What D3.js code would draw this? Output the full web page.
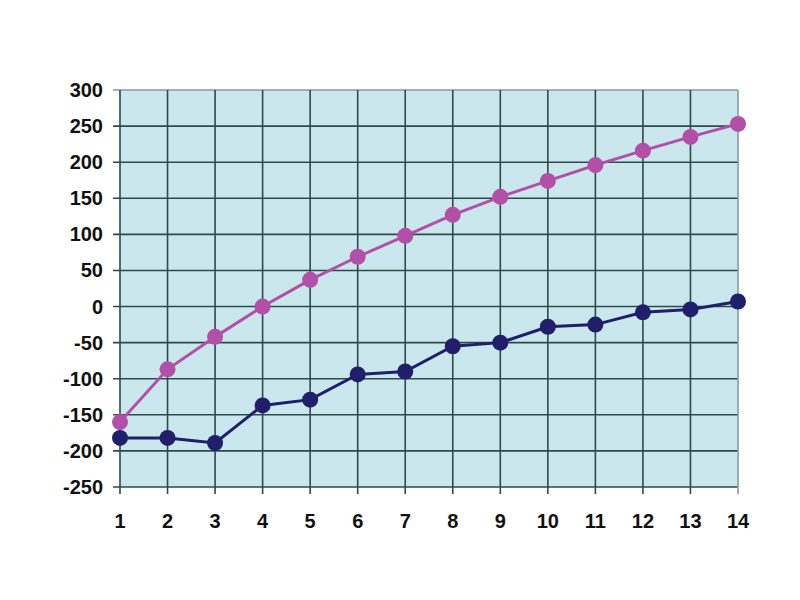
<!DOCTYPE html>
<html><head><meta charset="utf-8">
<script src="https://cdn.jsdelivr.net/npm/d3@7"></script>
<style>body{margin:0;background:#fff}</style>
</head><body>
<svg id="c" width="800" height="600"></svg>
<script>
const categories = [1,2,3,4,5,6,7,8,9,10,11,12,13,14];
const magentaValues = [-160,-87,-42,0,37,69,98,127,152,174,196,216,235,253];
const navyValues = [-182,-182,-189,-137,-129,-94,-90,-55,-50,-28,-25,-8,-4,7];
const yTicks = [-250,-200,-150,-100,-50,0,50,100,150,200,250,300];

const svg = d3.select("#c");
const L=120, R=738, T=90, B=487;
const x = d3.scalePoint().domain(categories).range([L,R]);
const y = d3.scaleLinear().domain([-250,300]).range([B,T]);

svg.append("rect").attr("x",L).attr("y",T).attr("width",R-L).attr("height",B-T).attr("fill","#c9e7ed");

const g = svg.append("g");
g.selectAll(".hg").data(yTicks).join("line")
  .attr("x1",L-7).attr("x2",R).attr("y1",d=>y(d)).attr("y2",d=>y(d))
  .attr("stroke",d=>d===300?"#8a9a9a":"#2e4a4a").attr("stroke-width",1.6);
g.selectAll(".vg").data(categories).join("line")
  .attr("x1",d=>x(d)).attr("x2",d=>x(d)).attr("y1",T).attr("y2",B+7)
  .attr("stroke",d=>d===14?"#8a9a9a":"#2e4a4a").attr("stroke-width",1.6);

svg.selectAll(".yl").data(yTicks).join("text")
  .attr("x",103).attr("y",d=>y(d)+7).attr("text-anchor","end")
  .attr("font-family","Liberation Sans, Arial, sans-serif").attr("font-weight","bold").attr("font-size",20)
  .attr("fill","#111").text(d=>d);
svg.selectAll(".xl").data(categories).join("text")
  .attr("x",d=>x(d)).attr("y",528).attr("text-anchor","middle")
  .attr("font-family","Liberation Sans, Arial, sans-serif").attr("font-weight","bold").attr("font-size",20)
  .attr("fill","#111").text(d=>d);

function series(vals,color){
  const line = d3.line().x((d,i)=>x(categories[i])).y(d=>y(d));
  svg.append("path").datum(vals).attr("d",line).attr("fill","none").attr("stroke",color).attr("stroke-width",3);
  svg.append("g").selectAll("circle").data(vals).join("circle")
    .attr("cx",(d,i)=>x(categories[i])).attr("cy",d=>y(d)).attr("r",8).attr("fill",color);
}
series(magentaValues,"#b24fa6");
series(navyValues,"#1f1f6b");
</script>
</body></html>
